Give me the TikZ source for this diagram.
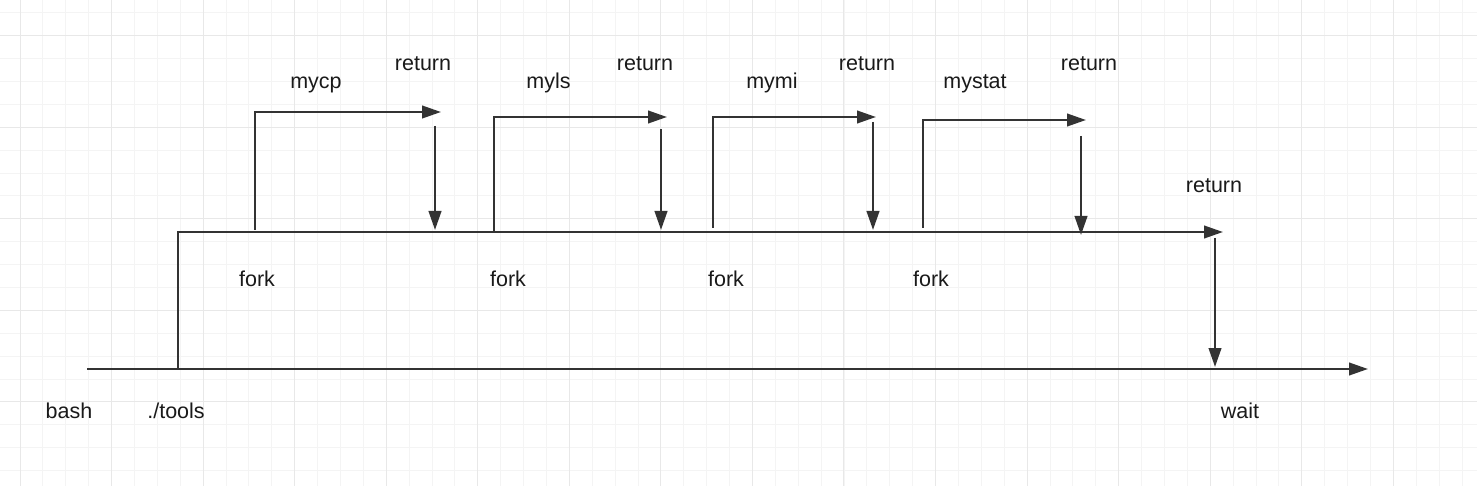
\documentclass[tikz,border=0pt]{standalone}
\usepackage{fontspec}
\setmainfont{Liberation Sans}
\usetikzlibrary{arrows.meta}
\definecolor{ink}{HTML}{333333}
\definecolor{txt}{HTML}{1A1A1A}
\definecolor{gminor}{HTML}{F4F4F4}
\definecolor{gmajor}{HTML}{E8E8E8}
\tikzset{
  conn/.style={draw=ink, line width=2.5pt},
  arr/.style={conn, -{Triangle[length=19pt,width=12.5pt]}},
  lbl/.style={anchor=base, inner sep=0pt, text=txt, font=\fontsize{21.5}{24}\selectfont},
}
\begin{document}
\begin{tikzpicture}[x=1pt,y=-1pt]
\useasboundingbox (0,0) rectangle (1477,486);
\fill[white] (0,0) rectangle (1477,486);
% grid
\foreach \i in {0,...,66}{
  \draw[gminor, line width=1pt] ({-2.89+22.89*\i},0) -- ({-2.89+22.89*\i},486);
}
\foreach \i in {0,...,22}{
  \draw[gminor, line width=1pt] (0,{12.8+22.89*\i}) -- (1477,{12.8+22.89*\i});
}
\foreach \i in {0,...,16}{
  \draw[gmajor, line width=1pt] ({20+91.55*\i},0) -- ({20+91.55*\i},486);
}
\foreach \i in {0,...,5}{
  \draw[gmajor, line width=1pt] (0,{35.7+91.55*\i}) -- (1477,{35.7+91.55*\i});
}
% coordinates
\coordinate (bashS) at (87,369);
\coordinate (bashE) at (1368,369);
\coordinate (toolsS) at (178,369);
\coordinate (toolsE) at (1223,232);
\coordinate (f1s) at (255,230);  \coordinate (f1e) at (441,112);
\coordinate (r1s) at (435,126);  \coordinate (r1e) at (435,230);
\coordinate (f2s) at (494,232);  \coordinate (f2e) at (667,117);
\coordinate (r2s) at (661,129);  \coordinate (r2e) at (661,230);
\coordinate (f3s) at (713,228);  \coordinate (f3e) at (876,117);
\coordinate (r3s) at (873,122);  \coordinate (r3e) at (873,230);
\coordinate (f4s) at (923,228);  \coordinate (f4e) at (1086,120);
\coordinate (r4s) at (1081,136); \coordinate (r4e) at (1081,235);
\coordinate (rws) at (1215,238); \coordinate (rwe) at (1215,367);
% connectors
\draw[arr] (bashS) -- (bashE);
\draw[arr] (toolsS) |- (toolsE);
\draw[arr] (f1s) |- (f1e);
\draw[arr] (r1s) -- (r1e);
\draw[arr] (f2s) |- (f2e);
\draw[arr] (r2s) -- (r2e);
\draw[arr] (f3s) |- (f3e);
\draw[arr] (r3s) -- (r3e);
\draw[arr] (f4s) |- (f4e);
\draw[arr] (r4s) -- (r4e);
\draw[arr] (rws) -- (rwe);
% labels
\node[lbl] (mycp) at (316,89) {mycp};
\node[lbl] (ret1) at (423,71) {return};
\node[lbl] (myls) at (548.5,89) {myls};
\node[lbl] (ret2) at (645,71) {return};
\node[lbl] (mymi) at (772,89) {mymi};
\node[lbl] (ret3) at (867,71) {return};
\node[lbl] (mystat) at (975,89) {mystat};
\node[lbl] (ret4) at (1089,71) {return};
\node[lbl] (retw) at (1214,193) {return};
\node[lbl] (fork1) at (257,287) {fork};
\node[lbl] (fork2) at (508,287) {fork};
\node[lbl] (fork3) at (726,287) {fork};
\node[lbl] (fork4) at (931,287) {fork};
\node[lbl] (bash) at (69,418) {bash};
\node[lbl] (tools) at (176,418) {./tools};
\node[lbl] (wait) at (1240,418) {wait};
\end{tikzpicture}
\end{document}
